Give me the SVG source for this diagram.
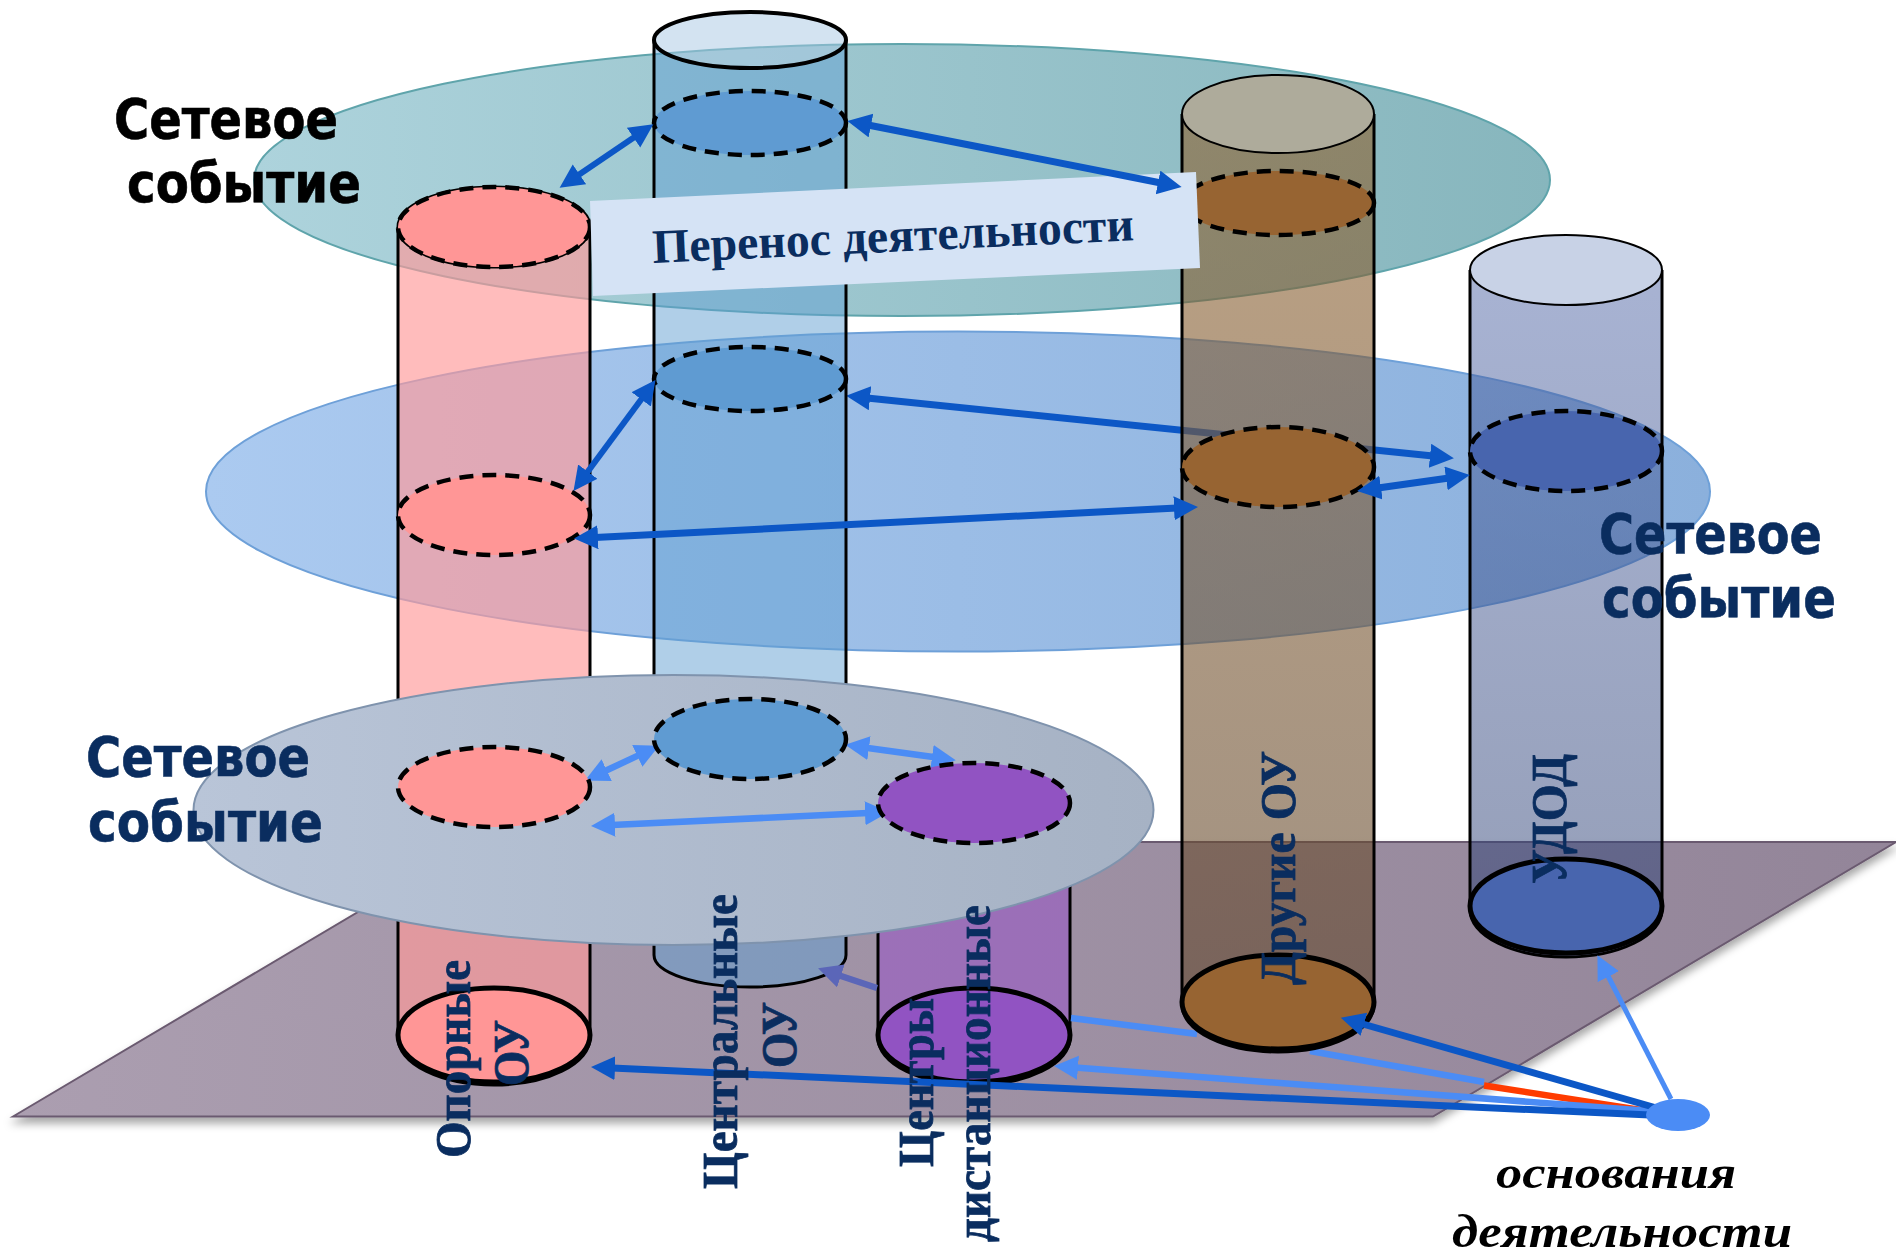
<svg xmlns="http://www.w3.org/2000/svg" width="1896" height="1257" viewBox="0 0 1896 1257">
<style>
.cap{stroke:#000;stroke-width:3}
.body{stroke:none}
.side{fill:none;stroke:#000;stroke-width:3}
.base{stroke:#000;stroke-width:5}
.dash{stroke:#000;stroke-width:4.5;stroke-dasharray:14 9}
.pink{fill:#ff9696}.blue{fill:#5f9bd2}.purple{fill:#9153c2}.brown{fill:#976432}.navy{fill:#4865ae}
.dk{stroke:#0c57c6;fill:none;stroke-width:7}
.lt{stroke:#4b8cf5;fill:none;stroke-width:6.5}
.dk2{marker-start:url(#hd);marker-end:url(#hd)}
.lt2{marker-start:url(#hl);marker-end:url(#hl)}
.ev{font-family:"DejaVu Sans Condensed","DejaVu Sans",sans-serif;font-weight:700;font-size:55px;stroke-width:.6}
.vt{font-family:"Liberation Serif",serif;font-weight:700;font-size:50px;fill:#0a2d5f;stroke:#0a2d5f;stroke-width:.8}
.it{font-family:"Liberation Serif",serif;font-weight:700;font-style:italic;font-size:46px;fill:#000}
</style>
<defs>
<marker id="hd" markerUnits="userSpaceOnUse" markerWidth="30" markerHeight="30" refX="3" refY="12" orient="auto-start-reverse"><path d="M0 0L24 12L0 24Z" fill="#0c57c6"/></marker>
<marker id="hl" markerUnits="userSpaceOnUse" markerWidth="30" markerHeight="30" refX="3" refY="12" orient="auto-start-reverse"><path d="M0 0L24 12L0 24Z" fill="#4b8cf5"/></marker>
<marker id="hp" markerUnits="userSpaceOnUse" markerWidth="30" markerHeight="30" refX="3" refY="12" orient="auto"><path d="M0 0L24 12L0 24Z" fill="#5b66b8"/></marker>
<linearGradient id="gPlane" x1="0" x2="1" y1="0" y2="0"><stop offset="0" stop-color="#ab9eb0"/><stop offset="1" stop-color="#938599"/></linearGradient>
<linearGradient id="gGreen" x1="0" x2="1" y1="0" y2="0"><stop offset="0" stop-color="#add3dc"/><stop offset="1" stop-color="#87b6bd"/></linearGradient>
<linearGradient id="gBlue" x1="0" x2="1" y1="0" y2="0"><stop offset="0" stop-color="#abcaf0"/><stop offset="1" stop-color="#8bb0dc"/></linearGradient>
<linearGradient id="gGray" x1="0" x2="1" y1="0" y2="0"><stop offset="0" stop-color="#b9c5d8"/><stop offset="1" stop-color="#a6b2c4"/></linearGradient>
<linearGradient id="gBrown" x1="0" x2="0" y1="0" y2="1"><stop offset="0" stop-color="#8f622f"/><stop offset="1" stop-color="#5f462d"/></linearGradient>
<linearGradient id="gUdod" x1="0" x2="0" y1="0" y2="1"><stop offset="0" stop-color="#5167a7"/><stop offset="1" stop-color="#2a3d70"/></linearGradient>
<filter id="sh" x="-5%" y="-5%" width="110%" height="115%"><feDropShadow dx="0" dy="6" stdDeviation="4" flood-color="#000" flood-opacity=".35"/></filter>
</defs>

<g id="plane"><path d="M13 1116.5L476 842H1896L1433 1116.5Z" fill="url(#gPlane)" stroke="#6b5a70" stroke-width="2" filter="url(#sh)"/></g>
<g id="event-top"><ellipse cx="902" cy="180" rx="648" ry="136" fill="url(#gGreen)" stroke="#5fa4ab" stroke-width="2"/></g>
<g id="event-middle"><ellipse cx="958" cy="491.5" rx="752" ry="160" fill="url(#gBlue)" stroke="#6ea0d8" stroke-width="2"/></g>

<g id="connectors-back"><path class="dk dk2" d="M867 398L1433 456"/></g>

<g id="cyl-central">
<path class="body" d="M654 40A96 28 0 0 0 846 40V955A96 32 0 0 1 654 955Z" fill="#619fd1" fill-opacity=".5"/>
<path class="side" d="M654 40V955A96 32 0 0 0 846 955V40"/>
<ellipse class="cap" style="stroke-width:4" cx="750" cy="40" rx="96" ry="28" fill="#a7c7e3" fill-opacity=".5"/>
</g>
<g id="cyl-pink">
<path class="body" d="M398 227A96 40 0 0 0 590 227V1038A96 47 0 0 1 398 1038Z" fill="#ff9999" fill-opacity=".66"/>
<path class="side" d="M398 227V1038A96 47 0 0 0 590 1038V227"/>
<ellipse class="cap" cx="494" cy="227" rx="96" ry="40" fill="#ff9696"/>
<ellipse class="base pink" cx="494" cy="1035" rx="96" ry="47"/>
</g>
<g id="cyl-purple">
<path class="body" d="M878 803H1070V1038A96 47 0 0 1 878 1038Z" fill="#984ecb" fill-opacity=".5"/>
<path class="side" d="M878 803V1038A96 47 0 0 0 1070 1038V803"/>
<ellipse class="base purple" cx="974" cy="1035" rx="96" ry="47"/>
</g>

<g id="connectors-base-back">
<path d="M877 988L838 975" stroke="#5b66b8" stroke-width="6.5" fill="none" marker-end="url(#hp)"/>
<path class="lt" d="M1071 1018L1197 1034"/>
<path class="lt" d="M1310 1051L1484 1082"/>
<path d="M1484 1085.5L1647 1111" stroke="#ff3b00" stroke-width="6.5" fill="none"/>
</g>

<g id="cyl-brown">
<path class="body" d="M1182 114A96 39 0 0 0 1374 114V1005A96 47 0 0 1 1182 1005Z" fill="url(#gBrown)" fill-opacity=".6"/>
<path class="side" d="M1182 114V1005A96 47 0 0 0 1374 1005V114"/>
<ellipse class="cap" style="stroke-width:2" cx="1278" cy="114" rx="96" ry="39" fill="#aeab9b"/>
<ellipse class="base brown" cx="1278" cy="1002" rx="96" ry="47"/>
</g>
<g id="cyl-udod">
<path class="body" d="M1470 270A96 35 0 0 0 1662 270V910A96 47 0 0 1 1470 910Z" fill="url(#gUdod)" fill-opacity=".5"/>
<path class="side" d="M1470 270V910A96 47 0 0 0 1662 910V270"/>
<ellipse class="cap" style="stroke-width:2" cx="1566" cy="270" rx="96" ry="35" fill="#c8d2e6"/>
<ellipse class="base navy" cx="1566" cy="906" rx="96" ry="47"/>
</g>

<g id="event-low"><ellipse cx="673.5" cy="810" rx="480" ry="135" fill="url(#gGray)" stroke="#7f93ad" stroke-width="2"/></g>

<g id="connectors-low">
<path class="lt lt2" d="M604 771.5L640 754.6"/>
<path class="lt lt2" d="M866 747.7L935 757.3"/>
<path class="lt lt2" d="M612 825L868 813"/>
</g>

<g id="slice-blue-1"><ellipse class="dash blue" cx="750" cy="123" rx="96" ry="32"/></g>
<g id="slice-blue-2"><ellipse class="dash blue" cx="750" cy="379" rx="96" ry="32"/></g>
<g id="slice-blue-3"><ellipse class="dash blue" cx="750" cy="739" rx="96" ry="40"/></g>
<g id="slice-pink-1"><ellipse class="dash pink" cx="494" cy="227" rx="96" ry="40"/></g>
<g id="slice-pink-2"><ellipse class="dash pink" cx="494" cy="515" rx="96" ry="40"/></g>
<g id="slice-pink-3"><ellipse class="dash pink" cx="494" cy="787" rx="96" ry="40"/></g>
<g id="slice-purple"><ellipse class="dash purple" cx="974" cy="803" rx="96" ry="40"/></g>
<g id="slice-brown-1"><ellipse class="dash brown" cx="1278" cy="203" rx="96" ry="32"/></g>
<g id="slice-brown-2"><ellipse class="dash brown" cx="1278" cy="467" rx="96" ry="40"/></g>
<g id="slice-udod"><ellipse class="dash navy" cx="1566" cy="451" rx="96" ry="40"/></g>

<g id="label-transfer">
<path d="M590 201L1196 172L1200 268L593 296Z" fill="#d5e3f5"/>
<text transform="translate(653 263) rotate(-2.7)" font-family="'Liberation Serif',serif" font-weight="700" font-size="48" fill="#0a2d5f" textLength="482" lengthAdjust="spacingAndGlyphs">Перенос деятельности</text>
</g>

<g id="connectors">
<path class="dk dk2" style="stroke-width:6" d="M577 176L636 136"/>
<path class="dk dk2" d="M868 125L1161 183"/>
<path class="dk dk2" style="stroke-width:6" d="M643 397L586 474"/>
<path class="dk dk2" d="M595 537.5L1177 508"/>
<path class="dk dk2" d="M1378 488L1449 478"/>
<path class="lt" style="stroke-width:5" marker-end="url(#hl)" d="M1671 1099L1607 974"/>
<path class="lt" marker-end="url(#hl)" d="M1650 1111L1075 1067.5"/>
<path class="dk" marker-end="url(#hd)" d="M1660 1109L1361 1023.5"/>
<path class="dk" marker-end="url(#hd)" d="M1650 1115L612 1068"/>
</g>
<g id="source"><ellipse cx="1678" cy="1115" rx="32" ry="16" fill="#4b8cf5"/></g>

<g id="labels">
<text class="ev" x="114" y="138" textLength="224" lengthAdjust="spacingAndGlyphs" fill="#000" stroke="#000">Сетевое</text>
<text class="ev" x="127" y="202" textLength="234" lengthAdjust="spacingAndGlyphs" fill="#000" stroke="#000">событие</text>
<text class="ev" x="1599" y="553" textLength="223" lengthAdjust="spacingAndGlyphs" fill="#0a2d5f" stroke="#0a2d5f">Сетевое</text>
<text class="ev" x="1602" y="617" textLength="234" lengthAdjust="spacingAndGlyphs" fill="#0a2d5f" stroke="#0a2d5f">событие</text>
<text class="ev" x="86" y="776" textLength="224" lengthAdjust="spacingAndGlyphs" fill="#0a2d5f" stroke="#0a2d5f">Сетевое</text>
<text class="ev" x="88" y="841" textLength="235" lengthAdjust="spacingAndGlyphs" fill="#0a2d5f" stroke="#0a2d5f">событие</text>
<text class="vt" transform="translate(470 1158) rotate(-90)" textLength="198" lengthAdjust="spacingAndGlyphs">Опорные</text>
<text class="vt" transform="translate(528 1086) rotate(-90)" textLength="66" lengthAdjust="spacingAndGlyphs">ОУ</text>
<text class="vt" transform="translate(737 1189) rotate(-90)" textLength="295" lengthAdjust="spacingAndGlyphs">Центральные</text>
<text class="vt" transform="translate(796 1068) rotate(-90)" textLength="66" lengthAdjust="spacingAndGlyphs">ОУ</text>
<text class="vt" transform="translate(933 1167) rotate(-90)" textLength="169" lengthAdjust="spacingAndGlyphs">Центры</text>
<text class="vt" transform="translate(990 1242) rotate(-90)" textLength="337" lengthAdjust="spacingAndGlyphs">дистанционные</text>
<text class="vt" transform="translate(1295 985) rotate(-90)" textLength="234" lengthAdjust="spacingAndGlyphs">Другие ОУ</text>
<text class="vt" transform="translate(1566 884) rotate(-90)" textLength="130" lengthAdjust="spacingAndGlyphs">УДОД</text>
<text class="it" x="1496" y="1188" textLength="240" lengthAdjust="spacingAndGlyphs">основания</text>
<text class="it" x="1452" y="1247" textLength="340" lengthAdjust="spacingAndGlyphs">деятельности</text>
</g>
</svg>
